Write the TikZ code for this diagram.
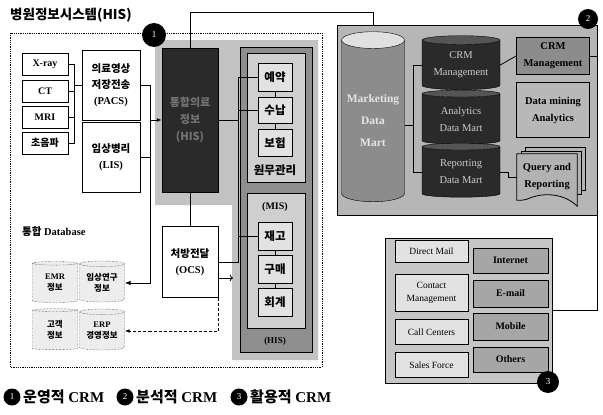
\documentclass[tikz,border=0pt]{standalone}
\usepackage{fontspec}
\setmainfont{Liberation Serif}
\newfontfamily\kr{Noto Sans CJK KR}
\usetikzlibrary{shapes.geometric,arrows.meta}
\definecolor{hisgray}{HTML}{C2C2C2}
\definecolor{colframe}{HTML}{8E8E8E}
\definecolor{colpanel}{HTML}{CFCFCF}
\definecolor{modfill}{HTML}{E2E2E2}
\definecolor{darkbox}{HTML}{2A2A2A}
\definecolor{anapanel}{HTML}{B6B6B6}
\definecolor{chpanel}{HTML}{C6C6C6}
\definecolor{dbfill}{HTML}{EDEDED}

\begin{document}
\begin{tikzpicture}[x=1pt,y=-1pt,
  box/.style={draw,thick,fill=white,align=center,inner sep=1pt},
  smallbox/.style={box,minimum width=46pt,minimum height=22pt,font=\bfseries\fontsize{10}{12}\selectfont},
  sysbox/.style={box,minimum width=58pt,minimum height=70pt,font=\bfseries\fontsize{10.5}{16}\selectfont},
  modbox/.style={draw,fill=modfill,minimum width=34pt,minimum height=28pt,inner sep=0pt,font=\kr\bfseries\fontsize{11.5}{13}\selectfont},
  dbcyl/.style={cylinder,shape border rotate=90,aspect=0.18,draw,densely dotted,fill=dbfill,
    minimum width=45pt,minimum height=41pt,inner sep=0pt,align=center,font=\bfseries\fontsize{8.5}{11}\selectfont},
  dmcyl/.style={cylinder,shape border rotate=90,aspect=0.16,draw=black,cylinder uses custom fill,
    cylinder body fill=darkbox,cylinder end fill=darkbox!80,minimum width=78pt,minimum height=54pt,
    inner sep=0pt,align=center,text=white!80!black,font=\fontsize{10.5}{17}\selectfont},
  crmbox/.style={draw,thick,align=center,minimum width=73pt,inner sep=0pt,font=\bfseries\fontsize{10.5}{17}\selectfont},
  chl/.style={draw,thick,fill=modfill,minimum width=73pt,align=center,inner sep=0pt,font=\fontsize{9.5}{13}\selectfont},
  chr/.style={draw,thick,fill=black!35,minimum width=75pt,align=center,inner sep=0pt,font=\bfseries\fontsize{10}{12}\selectfont},
  num/.style={circle,fill=black,text=white,inner sep=0pt,font=\fontsize{9}{9}\selectfont},
  legend/.style={anchor=west,inner sep=0pt,font=\bfseries\fontsize{15}{16}\selectfont}]
\useasboundingbox (0,0) rectangle (603,415);
\node[anchor=west,inner sep=0pt,font=\kr\bfseries\fontsize{13.5}{15}\selectfont] (title) at (10,15) {병원정보시스템(HIS)};
\draw[densely dotted,thick] (10,33) rectangle (322,367);
\fill[hisgray] (155,40) -| (318,360) -- (232,360) -- (232,205) -- (155,205) -- cycle;
\draw[fill=colframe] (240,47) rectangle (312,352);
\draw[fill=colpanel] (247,53) rectangle (305,182);
\draw[fill=colpanel] (247,193) rectangle (305,328);

\node[smallbox] (xray) at (45,64) {X-ray};
\node[smallbox] (ct) at (45,91) {CT};
\node[smallbox] (mri) at (45,117) {MRI};
\node[smallbox,font=\kr\bfseries\fontsize{10}{12}\selectfont] (us) at (45,143) {초음파};
\node[sysbox] (pacs) at (111,85) {{\kr 의료영상}\\{\kr 저장전송}\\(PACS)};
\node[sysbox] (lis) at (111,157) {{\kr 임상병리}\\(LIS)};
\node[draw,fill=darkbox,minimum width=56pt,minimum height=144pt,align=center,text=black!55,
  font=\kr\bfseries\fontsize{11}{17}\selectfont] (his) at (190,120) {통합의료\\정보\\(HIS)};
\node[sysbox,minimum width=56pt,minimum height=71pt] (ocs) at (190,262) {{\kr 처방전달}\\(OCS)};

\node[modbox] (yeyak) at (275,77) {예약};
\node[modbox,minimum height=26pt] (sunap) at (275,110) {수납};
\node[modbox,minimum height=27pt] (bohum) at (275,143) {보험};
\node[font=\kr\bfseries\fontsize{11.5}{13}\selectfont] (wonmu) at (275,170) {원무관리};
\node[font=\bfseries\fontsize{10}{12}\selectfont] (mis) at (275,207) {(MIS)};
\node[modbox] (jaego) at (275,236) {재고};
\node[modbox] (gumae) at (275,269) {구매};
\node[modbox] (hoegye) at (275,302) {회계};
\node[font=\bfseries\fontsize{9}{10}\selectfont] (hisb) at (275,341) {(HIS)};

\node[anchor=west,inner sep=0pt,font=\bfseries\fontsize{10.5}{12}\selectfont] (tdb) at (22,232) {{\kr 통합} Database};
\node[dbcyl] (emr) at (55,283) {EMR\\{\kr 정보}};
\node[dbcyl] (clin) at (102,283) {\kr 임상연구\\\kr 정보};
\node[dbcyl] (cust) at (55,330) {\kr 고객\\\kr 정보};
\node[dbcyl] (erp) at (102,331) {ERP\\{\kr 경영정보}};

\node[num,minimum size=24pt] (c1) at (154,35) {1};

\coordinate (lbus) at (74,0);
\coordinate (jn) at (150,120);
\coordinate (bus) at (238,0);
\coordinate (colin) at (233,278);
\coordinate (toprail) at (0,12);
\draw[thick] (xray.east) -- (xray.east -| lbus) -- (us.east -| lbus) -- (us.east);
\draw[thick] (ct.east) -- (ct.east -| lbus);
\draw[thick] (mri.east) -- (mri.east -| lbus);
\draw[thick] (pacs.west -| lbus) -- (pacs.west);
\draw[thick] (pacs.east) -| (jn);
\draw[thick] (lis.east) -| (jn);
\draw[thick,-{Latex[length=5pt]}] (jn) -- (his.west);
\draw[thick,-{Latex[length=6pt]}] (lis.east -| jn) -- (jn |- clin.east) -- (clin.east);
\draw[thick] (his.south) -- (ocs.north);
\draw[thick] (his.east) -- (his.east -| bus);
\draw[thick] (yeyak.west) -- (yeyak.west -| bus) -- (ocs.east -| bus) -- (ocs.east);
\draw[thick] (sunap.west) -- (sunap.west -| bus);
\draw[thick] (jaego.west) -- (jaego.west -| bus);
\draw[thick] (yeyak) -- (sunap) -- (bohum);
\draw[thick] (jaego) -- (gumae) -- (hoegye);
\draw[thick,->] (ocs.east |- colin) -- (colin);
\draw[thick,densely dashed,-{Latex[length=5pt]}] (ocs.south east) |- (erp.east);
\draw[thick] (his.north) -- (his.north |- toprail) -| (373,32);

\node[draw,fill=anapanel,minimum width=260pt,minimum height=190pt] (ana) at (467,120) {};
\node[num,minimum size=20pt] (c2) at (588,19) {2};
\node[cylinder,shape border rotate=90,aspect=0.32,draw,cylinder uses custom fill,cylinder body fill=black!45,
  cylinder end fill=black!12,minimum width=63pt,minimum height=170pt,inner sep=0pt,align=center,
  text=white!90!black,font=\bfseries\fontsize{11.5}{22}\selectfont] (mkt) at (373,121) {Marketing\\Data\\Mart};
\coordinate (bus2) at (413,0);
\coordinate (rrail) at (597,0);
\node[dmcyl] (crmc) at (461,65) {CRM\\Management};
\node[dmcyl] (anac) at (461,119) {Analytics\\Data Mart};
\node[dmcyl] (repc) at (461,172) {Reporting\\Data Mart};
\node[crmbox,fill=black!45,minimum height=37pt] (crmb) at (553,56) {CRM\\Management};
\node[crmbox,fill=black!28,minimum height=55pt] (dmb) at (553,110) {Data mining\\Analytics};
\draw[thick,fill=black!30] (525,147) rectangle (585,190);
\draw[thick,fill=black!30] (521,151) rectangle (581,194);
\node[minimum width=60pt,minimum height=46pt,inner sep=0pt,align=center,
  font=\bfseries\fontsize{10.5}{17}\selectfont] (qry) at (547,177) {};
\draw[thick,fill=black!30] (qry.north west) -- (qry.north east) -- ([yshift=-6pt]qry.south east)
  .. controls (565,194) and (545,192) .. (530,198) .. controls (524,201) and (519,200) .. (qry.south west) -- cycle;
\node[align=center,inner sep=0pt,font=\bfseries\fontsize{10.5}{17}\selectfont] at (qry) {Query and\\Reporting};
\draw[thick] ([yshift=-4pt]mkt.east) -- ([yshift=-4pt]mkt.east -| bus2);
\draw[thick] (crmc.west) -- (crmc.west -| bus2) -- (repc.west -| bus2) -- (repc.west);
\draw[thick] (crmc.east) -- (crmb.west);
\draw[thick] (repc.east) -- ++(8,0) |- (qry.west);

\node[draw,fill=chpanel,minimum width=167pt,minimum height=145pt] (ch) at (468.5,310.5) {};
\draw[thick] (crmb.east) -| (rrail |- ch.east) -- (ch.east);
\node[chl,minimum height=22pt] (dmail) at (431.5,251) {Direct Mail};
\node[chl,minimum height=37pt] (cmgmt) at (431.5,293) {Contact\\Management};
\node[chl,minimum height=25pt] (callc) at (431.5,332) {Call Centers};
\node[chl,minimum height=25pt] (sales) at (431.5,365) {Sales Force};
\node[chr,minimum height=25pt] (inet) at (510.5,260.5) {Internet};
\node[chr,minimum height=27pt] (email) at (510.5,293.5) {E-mail};
\node[chr,minimum height=27pt] (mob) at (510.5,326.5) {Mobile};
\node[chr,minimum height=25pt] (oth) at (510.5,359.5) {Others};
\node[num,minimum size=22pt] (c3) at (548,382) {3};

\node[num,minimum size=17pt] (l1) at (12,397) {1};
\node[legend] (l1t) at (23,397) {{\kr 운영적} CRM};
\node[num,minimum size=17pt] (l2) at (125,397) {2};
\node[legend] (l2t) at (136,397) {{\kr 분석적} CRM};
\node[num,minimum size=17pt] (l3) at (239,397) {3};
\node[legend] (l3t) at (250,397) {{\kr 활용적} CRM};
\end{tikzpicture}
\end{document}
